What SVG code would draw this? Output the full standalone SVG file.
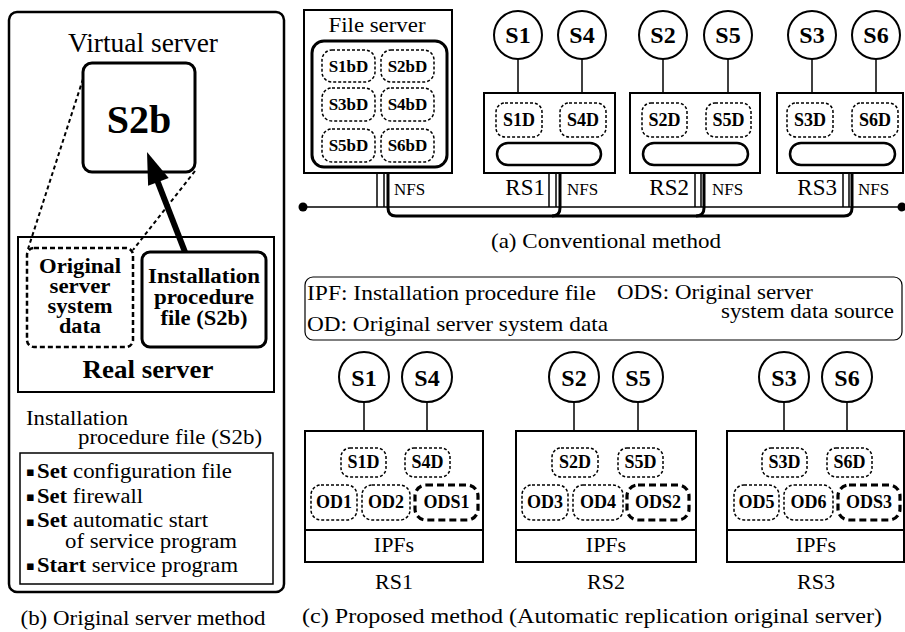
<svg xmlns="http://www.w3.org/2000/svg" width="905" height="632" viewBox="0 0 905 632">
<style>
text{font-family:"Liberation Serif","Times New Roman",serif;fill:#000}
.b{font-weight:bold}
.c{text-anchor:middle}
.e{text-anchor:end}
.box{fill:#fff;stroke:#000;stroke-width:2}
.dot{fill:#fff;stroke:#000;stroke-width:1.5;stroke-dasharray:3 2}
.tdash{fill:#fff;stroke:#000;stroke-width:3.2;stroke-dasharray:7 4}
.thin{stroke:#000;stroke-width:1.5;fill:none}
.circ{fill:#fff;stroke:#000;stroke-width:2}
.nfs{fill:none;stroke:#000;stroke-width:3}
.pill{fill:#fff;stroke:#000;stroke-width:2.5}
.lbl{font-size:18px;font-weight:bold}
.sv{font-size:24px;font-weight:bold}
.bul{font-family:"DejaVu Sans",sans-serif;font-size:13px}
</style>
<defs>
<marker id="ah" viewBox="0 0 10 10" refX="9" refY="5" markerUnits="userSpaceOnUse" markerWidth="10" markerHeight="10" orient="auto">
<path d="M0,0 L10,5 L0,10 z" fill="#000"/>
</marker>
</defs>
<rect x="0" y="0" width="905" height="632" fill="#fff"/>

<!-- (b) Original server method -->
<g id="panel-b">
<rect x="9" y="12" width="275" height="580" rx="8" fill="#fff" stroke="#000" stroke-width="2.5"/>
<text x="143" y="52" class="c" font-size="27" textLength="150" lengthAdjust="spacingAndGlyphs">Virtual server</text>
</g>
<g id="real-server">
<rect x="18" y="237" width="256" height="155" class="box"/>
<text x="148" y="378" class="c b" font-size="25" textLength="131" lengthAdjust="spacingAndGlyphs">Real server</text>
</g>
<g id="orig-data">
<rect x="27" y="248" width="106" height="99" rx="7" fill="#fff" stroke="#000" stroke-width="2.5" stroke-dasharray="5 3"/>
<text x="80" y="273" class="c b" font-size="20" textLength="82" lengthAdjust="spacingAndGlyphs">Original</text>
<text x="80" y="293" class="c b" font-size="20" textLength="61" lengthAdjust="spacingAndGlyphs">server</text>
<text x="80" y="313" class="c b" font-size="20" textLength="65" lengthAdjust="spacingAndGlyphs">system</text>
<text x="80" y="333" class="c b" font-size="20" textLength="42" lengthAdjust="spacingAndGlyphs">data</text>
</g>
<g id="ipf-box">
<rect x="142" y="252" width="124" height="95" rx="8" fill="#fff" stroke="#000" stroke-width="3"/>
<text x="204" y="283" class="c b" font-size="20" textLength="112" lengthAdjust="spacingAndGlyphs">Installation</text>
<text x="204" y="304" class="c b" font-size="20" textLength="100" lengthAdjust="spacingAndGlyphs">procedure</text>
<text x="204" y="325" class="c b" font-size="20" textLength="87" lengthAdjust="spacingAndGlyphs">file (S2b)</text>
</g>
<g id="s2b">
<rect x="83" y="63" width="112" height="109" rx="9" fill="#fff" stroke="#000" stroke-width="3"/>
<text x="139" y="133" class="c b" font-size="40">S2b</text>
</g>
<g id="b-connectors">
<line x1="83" y1="79" x2="28" y2="249" stroke="#000" stroke-width="2" stroke-dasharray="4 3"/>
<line x1="195" y1="171" x2="133" y2="250" stroke="#000" stroke-width="2" stroke-dasharray="4 3"/>
<line x1="185" y1="252" x2="157" y2="180" stroke="#000" stroke-width="6"/>
<polygon points="147,152 168.7,178 148.1,185.8" fill="#000"/>
</g>
<g id="ipf-list">
<text x="26" y="425" font-size="20" textLength="102" lengthAdjust="spacingAndGlyphs">Installation</text>
<text x="78" y="444" font-size="20" textLength="184" lengthAdjust="spacingAndGlyphs">procedure file (S2b)</text>
<rect x="20" y="453" width="253" height="131" fill="none" stroke="#000" stroke-width="1.5"/>
<text x="26" y="476" class="bul">▪</text>
<text x="37" y="478" font-size="20" textLength="195" lengthAdjust="spacingAndGlyphs"><tspan class="b">Set</tspan> configuration file</text>
<text x="26" y="501" class="bul">▪</text>
<text x="37" y="503" font-size="20" textLength="106" lengthAdjust="spacingAndGlyphs"><tspan class="b">Set</tspan> firewall</text>
<text x="26" y="526" class="bul">▪</text>
<text x="37" y="527" font-size="20" textLength="171" lengthAdjust="spacingAndGlyphs"><tspan class="b">Set</tspan> automatic start</text>
<text x="65" y="548" font-size="20" textLength="172" lengthAdjust="spacingAndGlyphs">of service program</text>
<text x="26" y="570" class="bul">▪</text>
<text x="37" y="572" font-size="20" textLength="201" lengthAdjust="spacingAndGlyphs"><tspan class="b">Start</tspan> service program</text>
</g>
<text x="143" y="625" class="c" font-size="22" textLength="245" lengthAdjust="spacingAndGlyphs">(b) Original server method</text>

<!-- (a) Conventional method -->
<g id="a-connectors">
<line x1="303" y1="207" x2="902" y2="207" class="thin"/>
<circle cx="303" cy="207" r="4.5" fill="#000"/>
<circle cx="902" cy="207" r="4.5" fill="#000"/>
<line x1="377" y1="173" x2="377" y2="207" class="thin"/>
<line x1="384" y1="173" x2="384" y2="207" class="thin"/>
<line x1="549" y1="173" x2="549" y2="207" class="thin"/>
<line x1="556" y1="173" x2="556" y2="207" class="thin"/>
<line x1="695" y1="173" x2="695" y2="207" class="thin"/>
<line x1="701" y1="173" x2="701" y2="207" class="thin"/>
<line x1="843" y1="173" x2="843" y2="207" class="thin"/>
<line x1="849" y1="173" x2="849" y2="207" class="thin"/>
<path d="M388,167 V208 Q388,216 396,216 H844 Q852,216 852,208 V158" class="nfs" marker-end="url(#ah)"/>
<path d="M552,216 Q560,216 560,208 V158" class="nfs" marker-end="url(#ah)"/>
<path d="M696,216 Q704,216 704,208 V158" class="nfs" marker-end="url(#ah)"/>
<line x1="518" y1="59" x2="518" y2="103" class="thin"/>
<line x1="582" y1="59" x2="582" y2="103" class="thin"/>
<line x1="663" y1="59" x2="663" y2="103" class="thin"/>
<line x1="728" y1="59" x2="728" y2="103" class="thin"/>
<line x1="812" y1="59" x2="812" y2="103" class="thin"/>
<line x1="876" y1="59" x2="876" y2="103" class="thin"/>
</g>
<g id="file-server">
<rect x="304" y="10" width="148" height="163" class="box"/>
<text x="377" y="32" class="c" font-size="22" textLength="97" lengthAdjust="spacingAndGlyphs">File server</text>
<rect x="312" y="41" width="135" height="126" rx="12" fill="#fff" stroke="#000" stroke-width="3"/>
<rect x="322" y="50" width="53" height="32" rx="10" class="dot"/>
<rect x="381" y="50" width="53" height="32" rx="10" class="dot"/>
<rect x="322" y="88" width="53" height="33" rx="10" class="dot"/>
<rect x="381" y="88" width="53" height="33" rx="10" class="dot"/>
<rect x="322" y="129" width="53" height="33" rx="10" class="dot"/>
<rect x="381" y="129" width="53" height="33" rx="10" class="dot"/>
<text class="c b" font-size="17"><tspan x="348.5" y="72">S1bD</tspan><tspan x="407.5" y="72">S2bD</tspan><tspan x="348.5" y="110">S3bD</tspan><tspan x="407.5" y="110">S4bD</tspan><tspan x="348.5" y="151">S5bD</tspan><tspan x="407.5" y="151">S6bD</tspan></text>
<text x="394" y="195" font-size="17">NFS</text>
</g>
<g id="rs1-a">
<rect x="484" y="93" width="131" height="80" class="box"/>
<rect x="496" y="103" width="46" height="34" rx="9" class="dot"/>
<rect x="560" y="103" width="46" height="34" rx="9" class="dot"/>
<text x="519" y="126" class="c lbl">S1D</text>
<text x="583" y="126" class="c lbl">S4D</text>
<rect x="497" y="143" width="104" height="22" rx="11" class="pill"/>
<text x="545" y="195" class="e" font-size="23">RS1</text>
<text x="567" y="195" font-size="17">NFS</text>
</g>
<g id="rs2-a">
<rect x="630" y="93" width="130" height="80" class="box"/>
<rect x="642" y="103" width="45" height="34" rx="9" class="dot"/>
<rect x="706" y="103" width="45" height="34" rx="9" class="dot"/>
<text x="664.5" y="126" class="c lbl">S2D</text>
<text x="728.5" y="126" class="c lbl">S5D</text>
<rect x="643" y="143" width="105" height="22" rx="11" class="pill"/>
<text x="689" y="195" class="e" font-size="23">RS2</text>
<text x="712" y="195" font-size="17">NFS</text>
</g>
<g id="rs3-a">
<rect x="777" y="93" width="126" height="80" class="box"/>
<rect x="787" y="103" width="46" height="34" rx="9" class="dot"/>
<rect x="852" y="103" width="46" height="34" rx="9" class="dot"/>
<text x="810" y="126" class="c lbl">S3D</text>
<text x="875" y="126" class="c lbl">S6D</text>
<rect x="790" y="143" width="105" height="22" rx="11" class="pill"/>
<text x="837" y="195" class="e" font-size="23">RS3</text>
<text x="858" y="195" font-size="17">NFS</text>
</g>
<g id="a-services">
<circle cx="518" cy="35" r="24" class="circ"/><text x="518" y="43" class="c sv">S1</text>
<circle cx="582" cy="35" r="24" class="circ"/><text x="582" y="43" class="c sv">S4</text>
<circle cx="663" cy="35" r="24" class="circ"/><text x="663" y="43" class="c sv">S2</text>
<circle cx="728" cy="35" r="24" class="circ"/><text x="728" y="43" class="c sv">S5</text>
<circle cx="812" cy="35" r="24" class="circ"/><text x="812" y="43" class="c sv">S3</text>
<circle cx="876" cy="35" r="24" class="circ"/><text x="876" y="43" class="c sv">S6</text>
</g>
<text x="606" y="248" class="c" font-size="22" textLength="230" lengthAdjust="spacingAndGlyphs">(a) Conventional method</text>

<!-- legend -->
<g id="legend">
<rect x="305" y="277" width="597" height="63" rx="8" fill="#fff" stroke="#000" stroke-width="1.2"/>
<text x="307" y="300" font-size="22" textLength="289" lengthAdjust="spacingAndGlyphs">IPF: Installation procedure file</text>
<text x="307" y="331" font-size="22" textLength="301" lengthAdjust="spacingAndGlyphs">OD: Original server system data</text>
<text x="617" y="299" font-size="21" textLength="196" lengthAdjust="spacingAndGlyphs">ODS: Original server</text>
<text x="721" y="318" font-size="20" textLength="173" lengthAdjust="spacingAndGlyphs">system data source</text>
</g>

<!-- (c) Proposed method -->
<g id="c-connectors">
<line x1="364" y1="402" x2="364" y2="448" class="thin"/>
<line x1="427" y1="402" x2="427" y2="448" class="thin"/>
<line x1="574" y1="402" x2="574" y2="448" class="thin"/>
<line x1="638" y1="402" x2="638" y2="448" class="thin"/>
<line x1="784" y1="402" x2="784" y2="448" class="thin"/>
<line x1="847" y1="402" x2="847" y2="448" class="thin"/>
</g>
<g id="rs1-c">
<rect x="305" y="431" width="178" height="131" class="box"/>
<line x1="305" y1="530" x2="483" y2="530" stroke="#000" stroke-width="2"/>
<rect x="341" y="448" width="45" height="29" rx="9" class="dot"/>
<rect x="405" y="448" width="45" height="29" rx="9" class="dot"/>
<text x="363.5" y="468" class="c lbl">S1D</text>
<text x="427.5" y="468" class="c lbl">S4D</text>
<rect x="311" y="485" width="46" height="35" rx="10" class="dot"/>
<rect x="362" y="485" width="48" height="35" rx="10" class="dot"/>
<rect x="415" y="485" width="63" height="35" rx="11" class="tdash"/>
<text x="334" y="508" class="c lbl">OD1</text>
<text x="386" y="508" class="c lbl">OD2</text>
<text x="446.5" y="508" class="c lbl">ODS1</text>
<text x="394" y="552" class="c" font-size="22">IPFs</text>
<text x="394" y="589" class="c" font-size="22">RS1</text>
</g>
<g id="rs2-c">
<rect x="516" y="431" width="180" height="131" class="box"/>
<line x1="516" y1="530" x2="696" y2="530" stroke="#000" stroke-width="2"/>
<rect x="552" y="448" width="46" height="29" rx="9" class="dot"/>
<rect x="618" y="448" width="45" height="29" rx="9" class="dot"/>
<text x="575" y="468" class="c lbl">S2D</text>
<text x="640.5" y="468" class="c lbl">S5D</text>
<rect x="522" y="485" width="46" height="35" rx="10" class="dot"/>
<rect x="573" y="485" width="50" height="35" rx="10" class="dot"/>
<rect x="627" y="485" width="62" height="35" rx="11" class="tdash"/>
<text x="545" y="508" class="c lbl">OD3</text>
<text x="598" y="508" class="c lbl">OD4</text>
<text x="658" y="508" class="c lbl">ODS2</text>
<text x="606" y="552" class="c" font-size="22">IPFs</text>
<text x="606" y="589" class="c" font-size="22">RS2</text>
</g>
<g id="rs3-c">
<rect x="727" y="431" width="177" height="131" class="box"/>
<line x1="727" y1="530" x2="904" y2="530" stroke="#000" stroke-width="2"/>
<rect x="762" y="448" width="45" height="29" rx="9" class="dot"/>
<rect x="827" y="448" width="45" height="29" rx="9" class="dot"/>
<text x="784.5" y="468" class="c lbl">S3D</text>
<text x="849.5" y="468" class="c lbl">S6D</text>
<rect x="734" y="485" width="45" height="35" rx="10" class="dot"/>
<rect x="784" y="485" width="49" height="35" rx="10" class="dot"/>
<rect x="838" y="485" width="62" height="35" rx="11" class="tdash"/>
<text x="756.5" y="508" class="c lbl">OD5</text>
<text x="808.5" y="508" class="c lbl">OD6</text>
<text x="869" y="508" class="c lbl">ODS3</text>
<text x="816" y="552" class="c" font-size="22">IPFs</text>
<text x="816" y="589" class="c" font-size="22">RS3</text>
</g>
<g id="c-services">
<circle cx="364" cy="377" r="25" class="circ"/><text x="364" y="386" class="c sv">S1</text>
<circle cx="427" cy="377" r="25" class="circ"/><text x="427" y="386" class="c sv">S4</text>
<circle cx="574" cy="377" r="25" class="circ"/><text x="574" y="386" class="c sv">S2</text>
<circle cx="638" cy="377" r="25" class="circ"/><text x="638" y="386" class="c sv">S5</text>
<circle cx="784" cy="377" r="25" class="circ"/><text x="784" y="386" class="c sv">S3</text>
<circle cx="847" cy="377" r="25" class="circ"/><text x="847" y="386" class="c sv">S6</text>
</g>
<text x="592" y="623" class="c" font-size="22" textLength="580" lengthAdjust="spacingAndGlyphs">(c) Proposed method (Automatic replication original server)</text>
</svg>
